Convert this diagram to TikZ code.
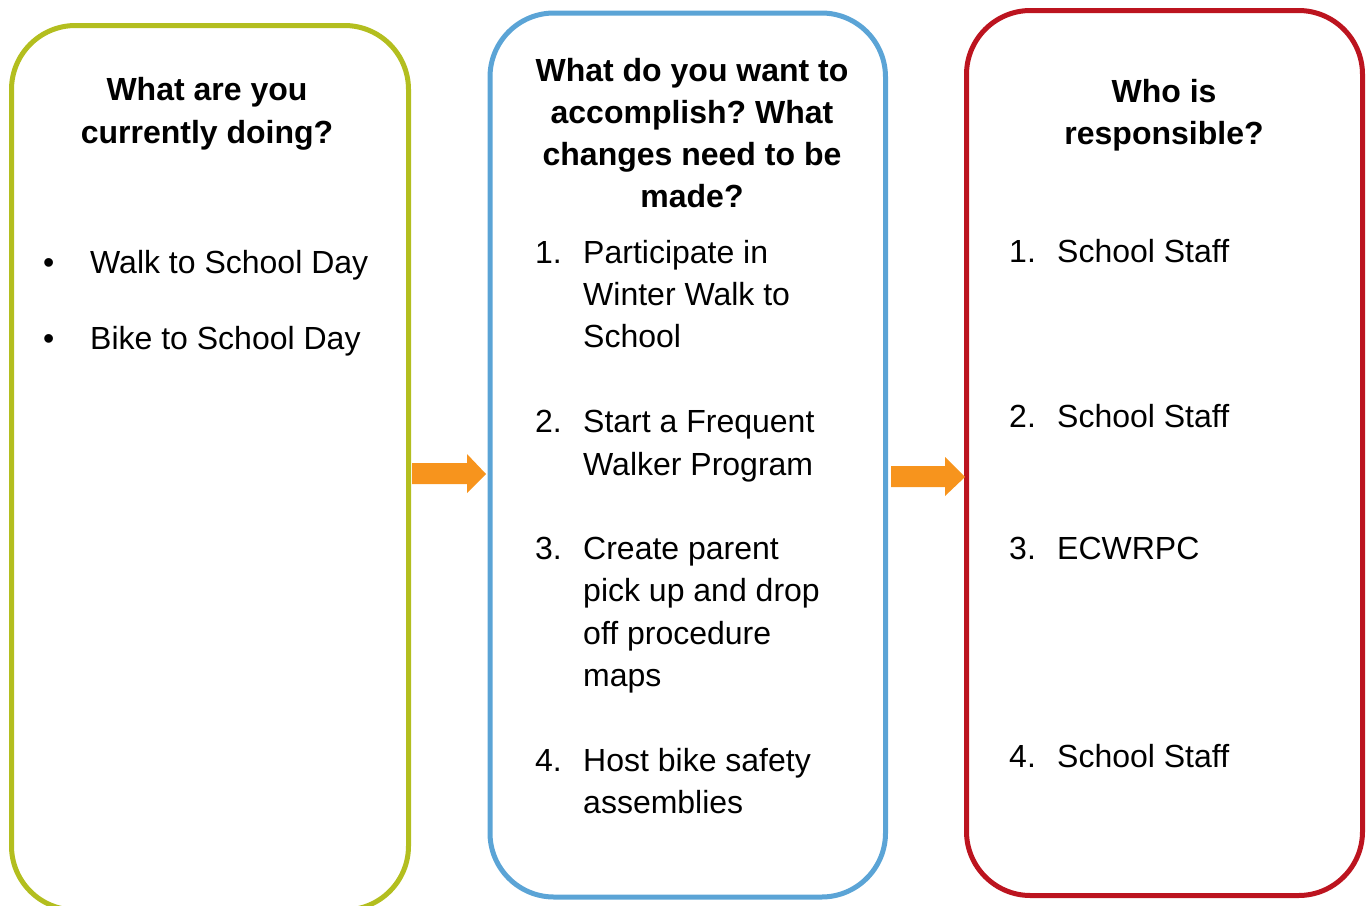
\documentclass[tikz,border=0pt]{standalone}
\usepackage{fontspec}
\setmainfont{Liberation Sans}
\frenchspacing
\definecolor{cgreen}{HTML}{B3BE1F}
\definecolor{cblue}{HTML}{5BA4D6}
\definecolor{cred}{HTML}{BC141F}
\definecolor{corange}{HTML}{F7941D}
\begin{document}
\begin{tikzpicture}[x=1pt,y=-1pt,
  box/.style={line width=5pt, rounded corners=64pt},
  ttl/.style={anchor=base, inner sep=0pt, font=\fontsize{32}{42}\selectfont\bfseries},
  txt/.style={anchor=base west, inner sep=0pt, font=\fontsize{32}{42}\selectfont},
  arr/.style={fill=corange, draw=none}]
\useasboundingbox (0,0) rectangle (1370,905);
\clip (0,0) rectangle (1370,905);
% boxes
\draw[box, cgreen] (11.5,25.5) rectangle (408.5,910);
\draw[box, cblue] (490,13) rectangle (885.5,897);
\draw[box, cred] (966.5,10.5) rectangle (1362.5,895.5);
% arrows
\fill[arr] (412,463) -- (467,463) -- (467,454) -- (486,474) -- (467,493) -- (467,484) -- (412,484) -- cycle;
\fill[arr] (891,466) -- (945,466) -- (945,457) -- (965,477) -- (945,496) -- (945,487) -- (891,487) -- cycle;
% left column
\node[ttl] (t1a) at (207,100) {What are you};
\node[ttl] (t1b) at (207,143) {currently doing?};
\node[txt] (b1) at (43,273) {•};
\node[txt] (l1) at (90,273) {Walk to School Day};
\node[txt] (b2) at (43,349) {•};
\node[txt] (l2) at (90,349) {Bike to School Day};
% middle column
\node[ttl] (t2a) at (692,81) {What do you want to};
\node[ttl] (t2b) at (692,123) {accomplish? What};
\node[ttl] (t2c) at (692,165) {changes need to be};
\node[ttl] (t2d) at (692,207) {made?};
\node[txt] (n1) at (535,263) {1.};
\node[txt] (m1a) at (583,263) {Participate in};
\node[txt] (m1b) at (583,305) {Winter Walk to};
\node[txt] (m1c) at (583,347) {School};
\node[txt] (n2) at (535,432) {2.};
\node[txt] (m2a) at (583,432) {Start a Frequent};
\node[txt] (m2b) at (583,475) {Walker Program};
\node[txt] (n3) at (535,559) {3.};
\node[txt] (m3a) at (583,559) {Create parent};
\node[txt] (m3b) at (583,601) {pick up and drop};
\node[txt] (m3c) at (583,644) {off procedure};
\node[txt] (m3d) at (583,686) {maps};
\node[txt] (n4) at (535,771) {4.};
\node[txt] (m4a) at (583,771) {Host bike safety};
\node[txt] (m4b) at (583,813) {assemblies};
% right column
\node[ttl] (t3a) at (1164,102) {Who is};
\node[ttl] (t3b) at (1164,144) {responsible?};
\node[txt] (r1n) at (1009,262) {1.};
\node[txt] (r1) at (1057,262) {School Staff};
\node[txt] (r2n) at (1009,427) {2.};
\node[txt] (r2) at (1057,427) {School Staff};
\node[txt] (r3n) at (1009,559) {3.};
\node[txt] (r3) at (1057,559) {ECWRPC};
\node[txt] (r4n) at (1009,767) {4.};
\node[txt] (r4) at (1057,767) {School Staff};
\end{tikzpicture}
\end{document}
